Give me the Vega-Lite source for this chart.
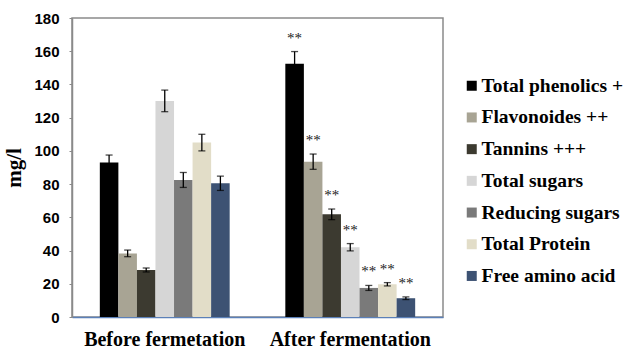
{
  "$schema": "https://vega.github.io/schema/vega-lite/v6.json",
  "autosize": {"type": "none"},
  "width": 371,
  "height": 299,
  "padding": {"left": 72, "top": 18, "right": 185, "bottom": 31},
  "background": "white",
  "config": {
    "view": {"stroke": "#8a8a8a", "strokeWidth": 1.5},
    "axis": {"grid": false},
    "axisY": {
      "titleFont": "Liberation Serif",
      "titleFontWeight": "bold",
      "titleFontSize": 21,
      "titleColor": "black",
      "titlePadding": 9,
      "tickCount": 9,
      "labelOverlap": false,
      "labelFont": "Liberation Sans",
      "labelFontWeight": "bold",
      "labelFontSize": 15,
      "labelColor": "black",
      "labelPadding": 10,
      "tickSize": 3,
      "tickColor": "#8a8a8a",
      "domainColor": "#8a8a8a",
      "domainWidth": 1.5
    }
  },
  "data": {
    "values": [
      {"stage": "Before fermetation", "param": "Total phenolics +", "value": 93, "lo": 88.5, "hi": 97.5, "sig": ""},
      {"stage": "Before fermetation", "param": "Flavonoides ++", "value": 38.3, "lo": 36.3, "hi": 40.3, "sig": ""},
      {"stage": "Before fermetation", "param": "Tannins +++", "value": 28.3, "lo": 27.1, "hi": 29.5, "sig": ""},
      {"stage": "Before fermetation", "param": "Total sugars", "value": 130, "lo": 123.6, "hi": 136.6, "sig": ""},
      {"stage": "Before fermetation", "param": "Reducing sugars", "value": 82.5, "lo": 78, "hi": 87, "sig": ""},
      {"stage": "Before fermetation", "param": "Total Protein", "value": 105, "lo": 100, "hi": 110, "sig": ""},
      {"stage": "Before fermetation", "param": "Free amino acid", "value": 80.5, "lo": 76.2, "hi": 84.8, "sig": ""},
      {"stage": "After fermentation", "param": "Total phenolics +", "value": 152.5, "lo": 145.2, "hi": 159.8, "sig": "**"},
      {"stage": "After fermentation", "param": "Flavonoides ++", "value": 93.5, "lo": 88.9, "hi": 98.1, "sig": "**"},
      {"stage": "After fermentation", "param": "Tannins +++", "value": 61.8, "lo": 58.6, "hi": 65, "sig": "**"},
      {"stage": "After fermentation", "param": "Total sugars", "value": 42, "lo": 39.8, "hi": 44.2, "sig": "**"},
      {"stage": "After fermentation", "param": "Reducing sugars", "value": 17.5, "lo": 16, "hi": 19, "sig": "**"},
      {"stage": "After fermentation", "param": "Total Protein", "value": 19.7, "lo": 18.7, "hi": 20.7, "sig": "**"},
      {"stage": "After fermentation", "param": "Free amino acid", "value": 11.3, "lo": 10.5, "hi": 12.1, "sig": "**"}
    ]
  },
  "encoding": {
    "x": {
      "field": "stage",
      "type": "nominal",
      "sort": ["Before fermetation", "After fermentation"],
      "scale": {"paddingInner": 0.3, "paddingOuter": 0.15},
      "axis": {
        "title": null,
        "labelAngle": 0,
        "ticks": false,
        "labelFont": "Liberation Serif",
        "labelFontWeight": "bold",
        "labelFontSize": 20,
        "labelColor": "black",
        "labelPadding": 12,
        "domainColor": "#5b80b8",
        "domainWidth": 1.5
      }
    },
    "xOffset": {
      "field": "param",
      "type": "nominal",
      "sort": ["Total phenolics +", "Flavonoides ++", "Tannins +++", "Total sugars", "Reducing sugars", "Total Protein", "Free amino acid"],
      "scale": {"paddingInner": 0, "paddingOuter": 0}
    }
  },
  "layer": [
    {
      "mark": {"type": "bar"},
      "encoding": {
        "y": {
          "field": "value",
          "type": "quantitative",
          "scale": {"domain": [0, 180], "nice": false},
          "axis": {"title": "mg/l"}
        },
        "color": {
          "field": "param",
          "type": "nominal",
          "scale": {
            "domain": ["Total phenolics +", "Flavonoides ++", "Tannins +++", "Total sugars", "Reducing sugars", "Total Protein", "Free amino acid"],
            "range": ["#000000", "#a8a494", "#3c3a30", "#d6d6d6", "#7a7a7a", "#e2ddc8", "#3d5273"]
          },
          "legend": {
            "title": null,
            "orient": "none",
            "legendX": 390,
            "legendY": 58,
            "padding": 0,
            "symbolType": "square",
            "symbolSize": 100,
            "symbolStrokeWidth": 0,
            "labelFont": "Liberation Serif",
            "labelFontWeight": "bold",
            "labelFontSize": 19.5,
            "labelColor": "black",
            "labelOffset": 0,
            "rowPadding": 10.7,
            "labelLimit": 300
          }
        }
      }
    },
    {
      "mark": {"type": "rule", "color": "black", "strokeWidth": 1.3},
      "encoding": {
        "y": {"field": "lo", "type": "quantitative", "axis": {"title": "mg/l"}},
        "y2": {"field": "hi"}
      }
    },
    {
      "mark": {"type": "tick", "color": "black", "size": 7, "thickness": 1.3},
      "encoding": {"y": {"field": "lo", "type": "quantitative", "axis": {"title": "mg/l"}}}
    },
    {
      "mark": {"type": "tick", "color": "black", "size": 7, "thickness": 1.3},
      "encoding": {"y": {"field": "hi", "type": "quantitative", "axis": {"title": "mg/l"}}}
    },
    {
      "mark": {"type": "text", "font": "Liberation Serif", "fontSize": 15, "color": "#222222", "baseline": "alphabetic", "dy": -9},
      "encoding": {
        "y": {"field": "hi", "type": "quantitative", "axis": {"title": "mg/l"}},
        "text": {"field": "sig"}
      }
    }
  ]
}
